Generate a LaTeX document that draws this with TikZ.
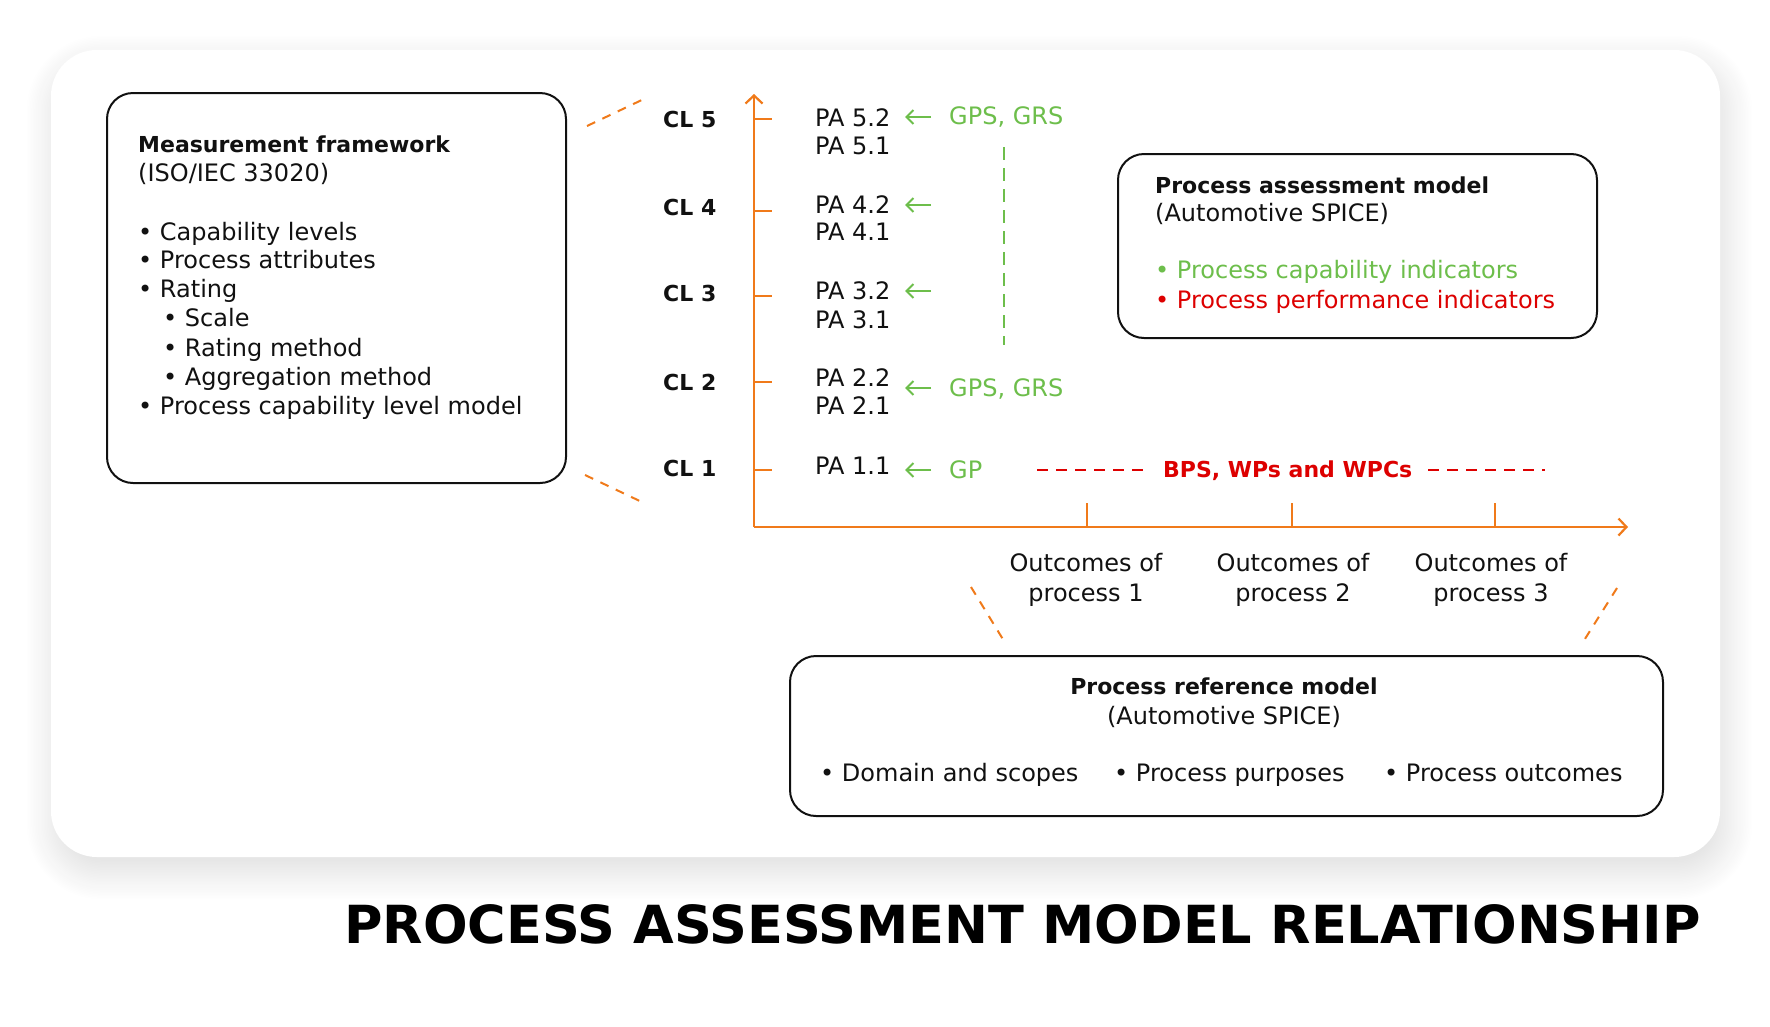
\documentclass[tikz,border=0pt]{standalone}
\usepackage{fontspec}
\setmainfont{DejaVu Sans}
\usetikzlibrary{shadows.blur,arrows.meta}
\definecolor{org}{HTML}{F07A1A}
\definecolor{grn}{HTML}{6DBE4B}
\definecolor{rd}{HTML}{DD0000}
\definecolor{ink}{HTML}{111111}
\tikzset{
  txt/.style={anchor=base west,inner sep=0pt,text=ink,font=\fontsize{24}{28}\selectfont},
  txtc/.style={anchor=base,inner sep=0pt,text=ink,font=\fontsize{24}{28}\selectfont},
  hd/.style={txt,font=\fontsize{22}{28}\selectfont\bfseries},
  box/.style={draw=ink,line width=2pt,rounded corners=26pt,fill=white,inner sep=0pt},
  axis/.style={draw=org,line width=2.4pt},
  tick/.style={draw=org,line width=2pt},
  garrow/.style={draw=grn,line width=2pt,-{Straight Barb[length=7pt,width=14pt,line width=2pt]}},
  odash/.style={draw=org,line width=2pt,dash pattern=on 9pt off 8pt},
  rdash/.style={draw=rd,line width=2pt,dash pattern=on 11pt off 8pt},
  gdash/.style={draw=grn,line width=2pt,dash pattern=on 13pt off 8pt},
}
\begin{document}
\begin{tikzpicture}[x=1pt,y=-1pt]
\useasboundingbox (0,0) rectangle (1770,1026);
% card
\node[fill=white,rounded corners=46pt,minimum width=1669pt,minimum height=807pt,inner sep=0pt,
  blur shadow={shadow xshift=4pt,shadow yshift=-14pt,shadow blur radius=30pt,shadow blur steps=20,shadow opacity=14}] (card) at (885.5,453.5) {};
% measurement framework
\node[box,minimum width=459pt,minimum height=390pt] (mf) at (336.5,288) {};
\node[hd] (mf1) at (138,152) {Measurement framework};
\node[txt] (mf2) at (138,181) {(ISO/IEC 33020)};
\node[txt] (mf3) at (138,240) {• Capability levels};
\node[txt] (mf4) at (138,268) {• Process attributes};
\node[txt] (mf5) at (138,297) {• Rating};
\node[txt] (mf6) at (163,326) {• Scale};
\node[txt] (mf7) at (163,356) {• Rating method};
\node[txt] (mf8) at (163,385) {• Aggregation method};
\node[txt] (mf9) at (138,414) {• Process capability level model};
% dashed links
\coordinate (d1a) at (587,126); \coordinate (d1b) at (646,98);
\coordinate (d2a) at (585,475); \coordinate (d2b) at (644,503);
\coordinate (d3a) at (971,587); \coordinate (d3b) at (1004,641);
\coordinate (d4a) at (1617,588); \coordinate (d4b) at (1583,642);
\draw[odash] (d1a) -- (d1b);
\draw[odash] (d2a) -- (d2b);
\draw[odash] (d3a) -- (d3b);
\draw[odash] (d4a) -- (d4b);
% axes
\coordinate (o) at (754,527);
\coordinate (ytop) at (754,94);
\coordinate (xend) at (1628,527);
\draw[axis,-{Straight Barb[length=8pt,width=17pt,line width=2.2pt]}] (o) -- (ytop);
\draw[axis,-{Straight Barb[length=8pt,width=17pt,line width=2.2pt]}] (o) -- (xend);
\foreach \y/\n in {119/5,211/4,296/3,382/2,470/1}{
  \coordinate (t\n) at (754,\y);
  \draw[tick] (t\n) -- ++(18,0);
}
\foreach \x/\n in {1087/1,1292/2,1495/3}{
  \coordinate (b\n) at (\x,527);
  \draw[tick] (b\n) -- ++(0,-24);
}
% CL labels
\node[hd] (cl5) at (663,127) {CL 5};
\node[hd] (cl4) at (663,215) {CL 4};
\node[hd] (cl3) at (663,301) {CL 3};
\node[hd] (cl2) at (663,390) {CL 2};
\node[hd] (cl1) at (663,476) {CL 1};
% PA labels
\node[txt] (pa52) at (815,126) {PA 5.2};
\node[txt] (pa51) at (815,154) {PA 5.1};
\node[txt] (pa42) at (815,213) {PA 4.2};
\node[txt] (pa41) at (815,240) {PA 4.1};
\node[txt] (pa32) at (815,299) {PA 3.2};
\node[txt] (pa31) at (815,328) {PA 3.1};
\node[txt] (pa22) at (815,386) {PA 2.2};
\node[txt] (pa21) at (815,414) {PA 2.1};
\node[txt] (pa11) at (815,474) {PA 1.1};
% green arrows
\foreach \y/\n in {117/5,205/4,291/3,388/2,470/1}{
  \coordinate (ga\n) at (931,\y); \coordinate (gb\n) at (905,\y);
  \draw[garrow] (ga\n) -- (gb\n);
}
\node[txt,text=grn] (g5) at (949,124) {GPS, GRS};
\node[txt,text=grn] (g2) at (949,396) {GPS, GRS};
\node[txt,text=grn] (g1) at (949,478) {GP};
\coordinate (gv1) at (1004,147); \coordinate (gv2) at (1004,345);
\draw[gdash] (gv1) -- (gv2);
% red
\coordinate (r1) at (1037,470); \coordinate (r2) at (1148,470);
\coordinate (r3) at (1428,470); \coordinate (r4) at (1545,470);
\draw[rdash] (r1) -- (r2);
\draw[rdash] (r3) -- (r4);
\node[hd,text=rd] (bps) at (1163,477) {BPS, WPs and WPCs};
% PAM
\node[box,minimum width=479pt,minimum height=184pt] (pam) at (1357.5,246) {};
\node[hd] (pam1) at (1155,193) {Process assessment model};
\node[txt] (pam2) at (1155,221) {(Automotive SPICE)};
\node[txt,text=grn] (pam3) at (1155,278) {• Process capability indicators};
\node[txt,text=rd] (pam4) at (1155,308) {• Process performance indicators};
% outcomes
\node[txtc] (oc1a) at (1086,571) {Outcomes of};
\node[txtc] (oc1b) at (1086,601) {process 1};
\node[txtc] (oc2a) at (1293,571) {Outcomes of};
\node[txtc] (oc2b) at (1293,601) {process 2};
\node[txtc] (oc3a) at (1491,571) {Outcomes of};
\node[txtc] (oc3b) at (1491,601) {process 3};
% PRM
\node[box,minimum width=873pt,minimum height=160pt] (prm) at (1226.5,736) {};
\node[txtc,font=\fontsize{22}{28}\selectfont\bfseries] (prm1) at (1224,694) {Process reference model};
\node[txtc] (prm2) at (1224,724) {(Automotive SPICE)};
\node[txt] (prm3) at (820,781) {• Domain and scopes};
\node[txt] (prm4) at (1114,781) {• Process purposes};
\node[txt] (prm5) at (1384,781) {• Process outcomes};
% title
\node[anchor=base east,inner sep=0pt,text=black,font=\fontsize{52.5}{60}\selectfont\bfseries] (title) at (1701,943) {PROCESS ASSESSMENT MODEL RELATIONSHIP};
\end{tikzpicture}
\end{document}
